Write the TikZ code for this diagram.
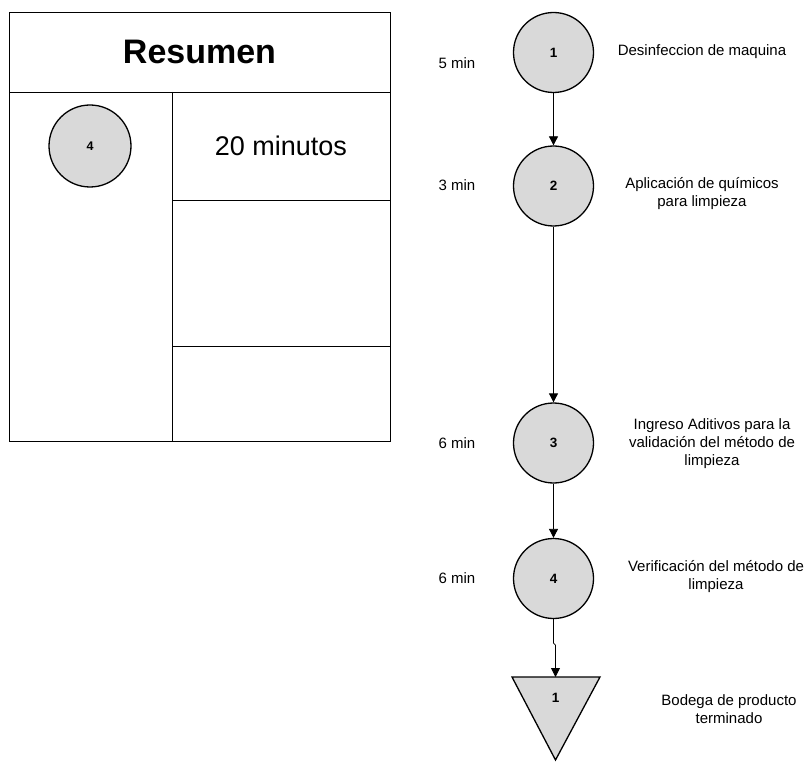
\documentclass[tikz,border=0pt]{standalone}
\usepackage{fontspec}
\setmainfont{Liberation Sans}
\usetikzlibrary{arrows.meta}
\definecolor{opfill}{gray}{0.85}
\tikzset{
  opcircle/.style={circle, draw=black, line width=1.3pt, fill=opfill,
    minimum size=80pt, inner sep=0pt, font=\fontsize{13.5}{16}\selectfont\bfseries},
  smallcircle/.style={opcircle, minimum size=82pt, font=\fontsize{12.5}{15}\selectfont\bfseries},
  timelabel/.style={font=\fontsize{15}{18}\selectfont, inner sep=0pt},
  desclabel/.style={font=\fontsize{15}{18}\selectfont, align=center, inner sep=0pt},
  flow/.style={draw=black, line width=0.8pt, -{Triangle[length=9pt,width=9pt]}},
  grid/.style={draw=black, line width=0.8pt}
}
\begin{document}
\begin{tikzpicture}[x=1pt, y=-1pt]
\useasboundingbox (0,0) rectangle (809,762);

% summary table
\draw[grid] (9,12) rectangle (390,441);
\draw[grid] (9,92) -- (390,92);
\draw[grid] (172,92) -- (172,441);
\draw[grid] (172,200) -- (390,200);
\draw[grid] (172,346) -- (390,346);
\node[font=\fontsize{34}{40}\selectfont\bfseries] (title) at (199.5,52) {Resumen};
\node[smallcircle] (sum4) at (90,146) {4};
\node[font=\fontsize{27}{32}\selectfont] (total) at (281,146) {20 minutos};

% process chart
\node[opcircle] (c1) at (553.5,52.5) {1};
\node[opcircle] (c2) at (553.5,186) {2};
\node[opcircle] (c3) at (553.5,443) {3};
\node[opcircle] (c4) at (553.5,578.5) {4};
\draw[line width=1.3pt, fill=opfill] (512,677) -- (600,677) -- (555.5,760) -- cycle;
\coordinate (ttop) at (555.5,677);
\node[font=\fontsize{13.5}{16}\selectfont\bfseries] (t1) at (555.5,698) {1};

\node[timelabel] (m1) at (457,63) {5 min};
\node[timelabel] (m2) at (457,185) {3 min};
\node[timelabel] (m3) at (457,443) {6 min};
\node[timelabel] (m4) at (457,578) {6 min};

\node[desclabel] (d1) at (702,52) {Desinfeccion de maquina};
\node[desclabel] (d2) at (702,194) {Aplicación de químicos\\para limpieza};
\node[desclabel] (d3) at (712,444) {Ingreso Aditivos para la\\validación del método de\\limpieza};
\node[desclabel] (d4) at (716,577) {Verificación del método de\\limpieza};
\node[desclabel] (d5) at (729,709) {Bodega de producto\\terminado};

\draw[flow] (c1) -- (c2);
\draw[flow] (c2) -- (c3);
\draw[flow] (c3) -- (c4);
\draw[flow] (c4.south) -- ++(0,24) -- ++(2,2) -- (ttop);
\end{tikzpicture}
\end{document}
